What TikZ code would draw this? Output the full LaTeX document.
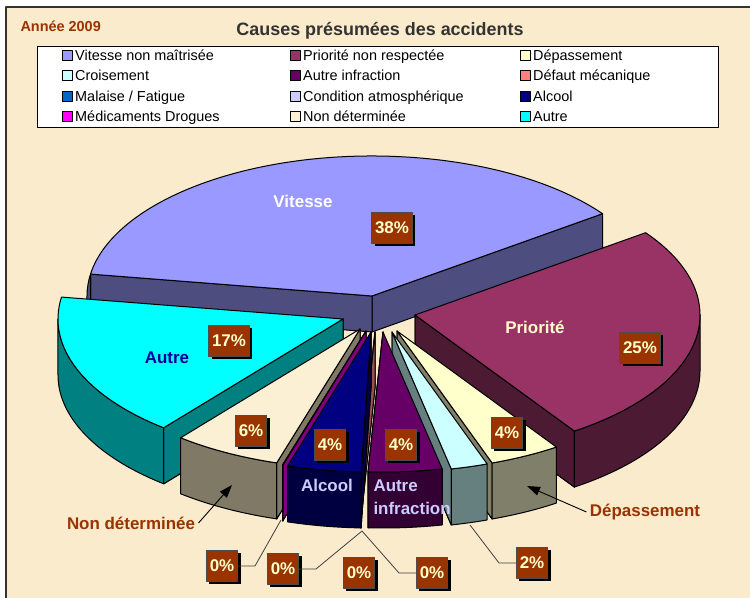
\documentclass[tikz,border=0pt]{standalone}
\usepackage[dvipsnames]{xcolor}
\usepackage{fontspec}
\setmainfont{Liberation Sans}
\usetikzlibrary{positioning,shadows,arrows.meta}
\definecolor{bgc}{HTML}{FAEBCC}
\definecolor{vitc}{HTML}{9999FF}
\definecolor{vits}{HTML}{4D4D80}
\definecolor{pric}{HTML}{993366}
\definecolor{pris}{HTML}{4D1A33}
\definecolor{depc}{HTML}{FFFFCC}
\definecolor{deps}{HTML}{80806A}
\definecolor{croc}{HTML}{CCFFFF}
\definecolor{cros}{HTML}{668080}
\definecolor{ainc}{HTML}{660066}
\definecolor{ains}{HTML}{330033}
\definecolor{defc}{HTML}{FF8080}
\definecolor{defs}{HTML}{995050}
\definecolor{malc}{HTML}{0066CC}
\definecolor{conc}{HTML}{CCCCFF}
\definecolor{alcc}{HTML}{000080}
\definecolor{alcs}{HTML}{000040}
\definecolor{medc}{HTML}{FF00FF}
\definecolor{meds}{HTML}{800080}
\definecolor{nonc}{HTML}{FCF0D4}
\definecolor{nons}{HTML}{7F7966}
\definecolor{autc}{HTML}{00FFFF}
\definecolor{auts}{HTML}{008080}
\definecolor{pbox}{HTML}{993300}
\definecolor{ptxt}{HTML}{FFFFCC}
\definecolor{brn}{HTML}{993300}
\definecolor{titc}{HTML}{333333}
\definecolor{lav}{HTML}{CCCCFF}
\definecolor{navyt}{HTML}{000099}

\begin{document}
\begin{tikzpicture}[x=1bp,y=1bp,line join=round,
                    face/.style={draw=black,line width=1bp},
                    pct/.style={fill=pbox,text=ptxt,draw=black!70,line width=0.5bp,font={\fontsize{17}{17}\selectfont\bfseries},inner xsep=3.5bp,inner ysep=0pt,minimum height=31bp,drop shadow={shadow xshift=3bp,shadow yshift=-3bp,fill=black,opacity=1}},
                    lbl/.style={font={\fontsize{17}{23}\selectfont\bfseries}},
                    legsq/.style={draw=black,line width=1bp,minimum size=10bp,inner sep=0pt},
                    legtxt/.style={font={\fontsize{14.5}{16}\selectfont},inner sep=0pt,text height=10bp,text depth=0pt,anchor=west},
                    lead/.style={draw=black!75,line width=0.8bp}]
                        \useasboundingbox (0,0) rectangle (750,598);
                        \fill[white] (0,0) rectangle (750,598);
                        \fill[bgc] (6,591) rectangle (750,0);
                        \draw[black!80,line width=1.5bp] (750,591) -- (6,591) -- (6,0);

                        \node[font={\fontsize{14.5}{16}\selectfont\bfseries},text=brn,anchor=west] (annee) at (17,572) {Année 2009};
                        \node[font={\fontsize{18}{20}\selectfont\bfseries},text=titc] (titre) at (380,567) {Causes présumées des accidents};
                        \draw[fill=white,line width=0.8bp] (37,552) rectangle (718,471);

                        \foreach \nm/\x/\y/\c/\t in {lv/67/542/vitc/Vitesse non maîtrisée, lc/67/522/croc/Croisement, lm/67/501/malc/{Malaise / Fatigue}, lmd/67/481/medc/Médicaments Drogues,
                                                     lp/295/542/pric/Priorité non respectée, la/295/522/ainc/Autre infraction, lca/295/501/conc/Condition atmosphérique, ln/295/481/nonc/Non déterminée,
                                                     ld/525/542/depc/Dépassement, ldf/525/522/defc/Défaut mécanique, lal/525/501/alcc/Alcool, lau/525/481/autc/Autre}
                        {
                            \node[legsq,fill=\c] (\nm) at (\x,\y) {};
                            \node[legtxt,right=2.5bp of \nm] {\t};
                        }

                        \coordinate (vit) at (372,302);
                        \coordinate (pri) at (415,283);
                        \coordinate (dep) at (397,267);
                        \coordinate (cro) at (392,266);
                        \coordinate (ainf) at (383,266);
                        \coordinate (defm) at (375,266);
                        \coordinate (alc) at (371,266);
                        \coordinate (med) at (366,267);
                        \coordinate (nond) at (360,269);
                        \coordinate (aut) at (343,279);

                        \foreach \ap/\a/\b/\h/\tc/\sc/\fa/\fb/\ri/\ro in {vit/36/171/36/vitc/vits/36/171/171/180,
                                                                          pri/304/396/56/pric/pris/304/304/304/360,
                                                                          aut/171/231/56/autc/auts/231/231/180/231,
                                                                          dep/289.5/304/56/depc/deps/289.5/289.5/289.5/304,
                                                                          cro/282/289.5/56/croc/cros/282/282/282/289.5,
                                                                          nond/231/253/56/nonc/nons/253/253/231/253,
                                                                          med/253/253.1/56/medc/meds/253/253/253/253.1,
                                                                          defm/267/267.1/56/defc/defs/267/267/267/267.1,
                                                                          alc/253/268/56/alcc/alcs/268/268/253/268,
                                                                          ainf/267/282/56/ainc/ains/267/267/267/282}
                        {
                            \filldraw[face,fill=\sc] (\ap) -- ++(\fa:285bp and 140bp) -- ++(0,-\h) -- ([yshift=-\h bp]\ap) -- cycle;
                            \filldraw[face,fill=\sc] (\ap) -- ++(\fb:285bp and 140bp) -- ++(0,-\h) -- ([yshift=-\h bp]\ap) -- cycle;
                            \filldraw[face,fill=\sc] (\ap) ++(\ri:285bp and 140bp) arc[start angle=\ri,end angle=\ro,x radius=285bp,y radius=140bp] -- ++(0,-\h) arc[start angle=\ro,end angle=\ri,x radius=285bp,y radius=140bp] -- cycle;
                            \filldraw[face,fill=\tc] (\ap) -- ++(\a:285bp and 140bp) arc[start angle=\a,end angle=\b,x radius=285bp,y radius=140bp] -- cycle;
                        }

                        \node[lbl,text=white] (vitl) at (303,397) {Vitesse};
                        \node[lbl,text=ptxt] (pril) at (535,271) {Priorité};
                        \node[lbl,text=navyt] (autl) at (167,240) {Autre};
                        \node[lbl,text=lav] (alcl) at (327,113) {Alcool};
                        \node[lbl,text=lav,align=left,anchor=west] (ainfl) at (370,101) {Autre\\infraction};
                        \node[lbl,text=brn] (nondl) at (131,75) {Non déterminée};
                        \node[lbl,text=brn] (depl) at (645,86) {Dépassement};

                        \node[pct] (p38) at (392,370) {38\%};
                        \node[pct] (p25) at (640,250) {25\%};
                        \node[pct] (p17) at (229,257) {17\%};
                        \node[pct] (p6) at (251,167) {6\%};
                        \node[pct] (p4a) at (330,153) {4\%};
                        \node[pct] (p4b) at (401,153) {4\%};
                        \node[pct] (p4c) at (507,165) {4\%};
                        \node[pct] (p2) at (532,35) {2\%};
                        \node[pct] (z1) at (222,32) {0\%};
                        \node[pct] (z2) at (283,29) {0\%};
                        \node[pct] (z3) at (359,25) {0\%};
                        \node[pct] (z4) at (432,25) {0\%};

                        \coordinate (medpt) at (281,78);
                        \coordinate (zpt) at (362,67);
                        \coordinate (cropt) at (470,73);
                        \coordinate (ndtip) at (232,113);
                        \coordinate (dptip) at (527,112);

                        \draw[lead] (z1.east) -- ++(17,0) -- (medpt);
                        \draw[lead] (z2.east) -- ++(17,0) -- (zpt);
                        \draw[lead] (z4.west) -- ++(-17,0) -- (zpt);
                        \draw[lead] (p2.west) -- ++(-17,0) -- (cropt);
                        \draw[-{Triangle[length=13bp,width=9bp]},line width=0.9bp] (nondl.east) -- (ndtip);
                        \draw[-{Triangle[length=13bp,width=9bp]},line width=0.9bp] (depl.west) -- (dptip);
                    \end{tikzpicture}
\end{document}
